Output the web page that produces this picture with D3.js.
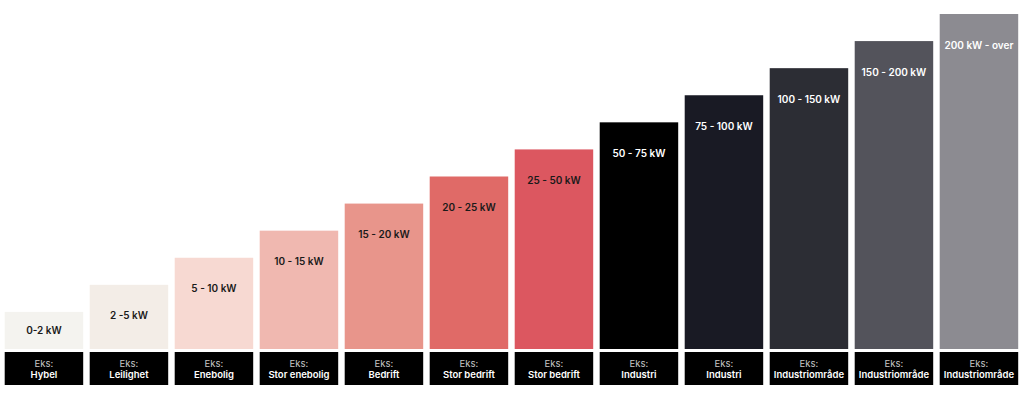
<!DOCTYPE html>
<html>
<head>
<meta charset="utf-8">
<script src="https://cdn.jsdelivr.net/npm/d3@7"></script>
<style>
  body { margin: 0; background: #fff; }
  svg { display: block; font-family: Inter, "Noto Sans", sans-serif; }
</style>
</head>
<body>
<svg id="chart" width="1024" height="400"></svg>
<script>
// effektbehov per kategori
const ranges = ["0-2 kW", "2 -5 kW", "5 - 10 kW", "10 - 15 kW", "15 - 20 kW", "20 - 25 kW",
  "25 - 50 kW", "50 - 75 kW", "75 - 100 kW", "100 - 150 kW", "150 - 200 kW", "200 kW - over"];
const examples = ["Hybel", "Leilighet", "Enebolig", "Stor enebolig", "Bedrift", "Stor bedrift",
  "Stor bedrift", "Industri", "Industri", "Industriområde", "Industriområde", "Industriområde"];
const levels = [1, 2, 3, 4, 5, 6, 7, 8, 9, 10, 11, 12];
const colors = ["#f4f3ef", "#f3ede7", "#f7d9d2", "#f0b8b0", "#e8958b", "#e06a67",
  "#dc5760", "#000000", "#191a24", "#2c2d34", "#53535b", "#8c8b91"];
const darkText = [true, true, true, true, true, true, true, false, false, false, false, false];

const svg = d3.select("#chart");

const x = d3.scaleBand()
    .domain(ranges)
    .range([4.7, 1018.2])
    .paddingInner(0.0765)
    .paddingOuter(0);

const y = d3.scaleLinear()
    .domain([0, 12])
    .range([339, 14]);

const barBottom = 349;

// stolper
const bars = svg.selectAll("g.bar")
    .data(ranges)
    .enter()
    .append("g")
    .attr("class", "bar");

bars.append("rect")
    .attr("x", d => x(d))
    .attr("y", (d, i) => y(levels[i]))
    .attr("width", x.bandwidth())
    .attr("height", (d, i) => barBottom - y(levels[i]))
    .attr("fill", (d, i) => colors[i]);

bars.append("text")
    .attr("x", d => x(d) + x.bandwidth() / 2)
    .attr("y", (d, i) => {
        const top = y(levels[i]);
        return Math.min(top + 31, (top + barBottom) / 2);
    })
    .attr("dy", "0.35em")
    .attr("text-anchor", "middle")
    .attr("font-size", 10)
    .attr("font-weight", 600)
    .attr("fill", (d, i) => darkText[i] ? "#1a1a1a" : "#ffffff")
    .text(d => d);

// eksempel-bokser under
const boxes = svg.selectAll("g.ex")
    .data(examples)
    .enter()
    .append("g")
    .attr("class", "ex")
    .attr("transform", (d, i) => `translate(${x(ranges[i])},352)`);

boxes.append("rect")
    .attr("width", x.bandwidth())
    .attr("height", 33)
    .attr("fill", "#000");

boxes.append("text")
    .attr("x", x.bandwidth() / 2)
    .attr("y", 11.5)
    .attr("dy", "0.35em")
    .attr("text-anchor", "middle")
    .attr("font-size", 9.5)
    .attr("fill", "#c8c8c8")
    .text("Eks:");

boxes.append("text")
    .attr("x", x.bandwidth() / 2)
    .attr("y", 22.5)
    .attr("dy", "0.35em")
    .attr("text-anchor", "middle")
    .attr("font-size", 9.5)
    .attr("font-weight", 600)
    .attr("fill", "#fff")
    .text(d => d);
</script>
</body>
</html>
